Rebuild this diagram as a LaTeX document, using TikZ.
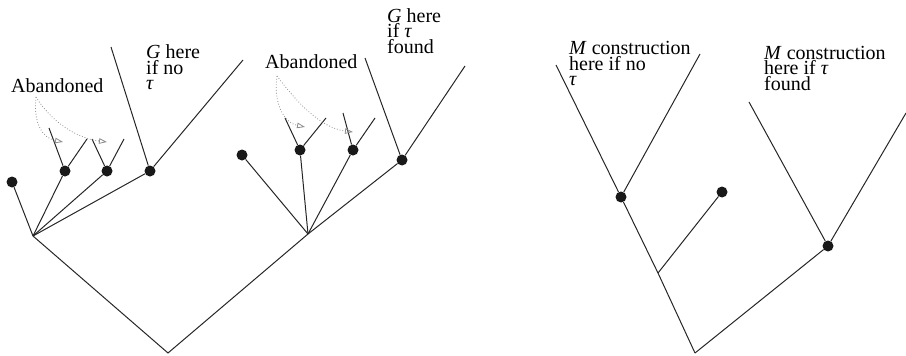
\documentclass[tikz,border=0pt]{standalone}
\usepackage{fontspec}
\setmainfont{Liberation Serif}
\usetikzlibrary{arrows.meta}
\begin{document}
\begin{tikzpicture}[x=1pt,y=-1pt,
  edge/.style={line width=1pt, black!85},
  dotnode/.style={circle, fill=black!90, inner sep=0pt, minimum size=11pt},
  txt/.style={anchor=north west, inner sep=0pt, align=left, font=\fontsize{20}{15.5}\selectfont},
  abandon/.style={black!45, dotted, line width=0.8pt, -{Triangle[open, length=8pt, width=5.5pt]}}]
\useasboundingbox (0,0) rectangle (906,356);
% ---------- left tree ----------
\coordinate (r1) at (168,353);
\coordinate (a) at (33,236);
\coordinate (b) at (308,234);
\node[dotnode] (l0) at (12,182) {};
\node[dotnode] (l1) at (65,171) {};
\node[dotnode] (l2) at (107,171) {};
\node[dotnode] (l3) at (150,171) {};
\node[dotnode] (m0) at (242,155) {};
\node[dotnode] (m1) at (300,150) {};
\node[dotnode] (m2) at (353,150) {};
\node[dotnode] (m3) at (402,160) {};
\coordinate (l1a) at (49,128);
\coordinate (l1b) at (87,139);
\coordinate (l2a) at (92,139);
\coordinate (l2b) at (124,139);
\coordinate (l3a) at (111,47);
\coordinate (l3b) at (243,60);
\coordinate (m1a) at (285,118);
\coordinate (m1b) at (326,118);
\coordinate (m2a) at (343,113);
\coordinate (m2b) at (375,118);
\coordinate (m3a) at (365,58);
\coordinate (m3b) at (465,66);
\draw[edge] (a) -- (r1) -- (b);
\foreach \n in {l0,l1,l2,l3} \draw[edge] (a) -- (\n);
\foreach \n in {m0,m1,m2,m3} \draw[edge] (b) -- (\n);
\draw[edge] (l1a) -- (l1) -- (l1b);
\draw[edge] (l2a) -- (l2) -- (l2b);
\draw[edge] (l3a) -- (l3) -- (l3b);
\draw[edge] (m1a) -- (m1) -- (m1b);
\draw[edge] (m2a) -- (m2) -- (m2b);
\draw[edge] (m3a) -- (m3) -- (m3b);
% texts
\node[txt] (ab1) at (11,78) {Abandoned};
\node[txt] (ab2) at (265,54.3) {Abandoned};
\node[txt] (g1) at (146,44.8) {\textit{G} here\\if no\\\textit{τ}};
\node[txt] (g2) at (387,8) {\textit{G} here\\if \textit{τ}\\found};
% abandoned arrows
\coordinate (s1) at (36,97);
\coordinate (e1) at (63,142);
\coordinate (e2) at (107,142);
\coordinate (s2) at (277,76);
\coordinate (e3) at (305,127);
\coordinate (e4) at (353,132);
\draw[abandon] (s1) .. controls (33,122) and (42,138) .. (e1);
\draw[abandon] (s1) .. controls (50,120) and (75,138) .. (e2);
\draw[abandon] (s2) .. controls (273,105) and (285,123) .. (e3);
\draw[abandon] (s2) .. controls (295,100) and (320,128) .. (e4);
% ---------- right tree ----------
\coordinate (r2) at (695,353);
\coordinate (c) at (658,273);
\node[dotnode] (n1) at (621,197) {};
\node[dotnode] (n2) at (722,192) {};
\node[dotnode] (n3) at (828,246) {};
\coordinate (n1a) at (556,65);
\coordinate (n1b) at (700,54);
\coordinate (n3a) at (749,102);
\coordinate (n3b) at (906,113);
\draw[edge] (r2) -- (c) -- (n1) -- (n1a);
\draw[edge] (n1) -- (n1b);
\draw[edge] (c) -- (n2);
\draw[edge] (r2) -- (n3);
\draw[edge] (n3a) -- (n3) -- (n3b);
\node[txt] (mc1) at (569,41.3) {\textit{M} construction\\here if no\\\textit{τ}};
\node[txt] (mc2) at (764,45.8) {\textit{M} construction\\here if \textit{τ}\\found};
\end{tikzpicture}
\end{document}
